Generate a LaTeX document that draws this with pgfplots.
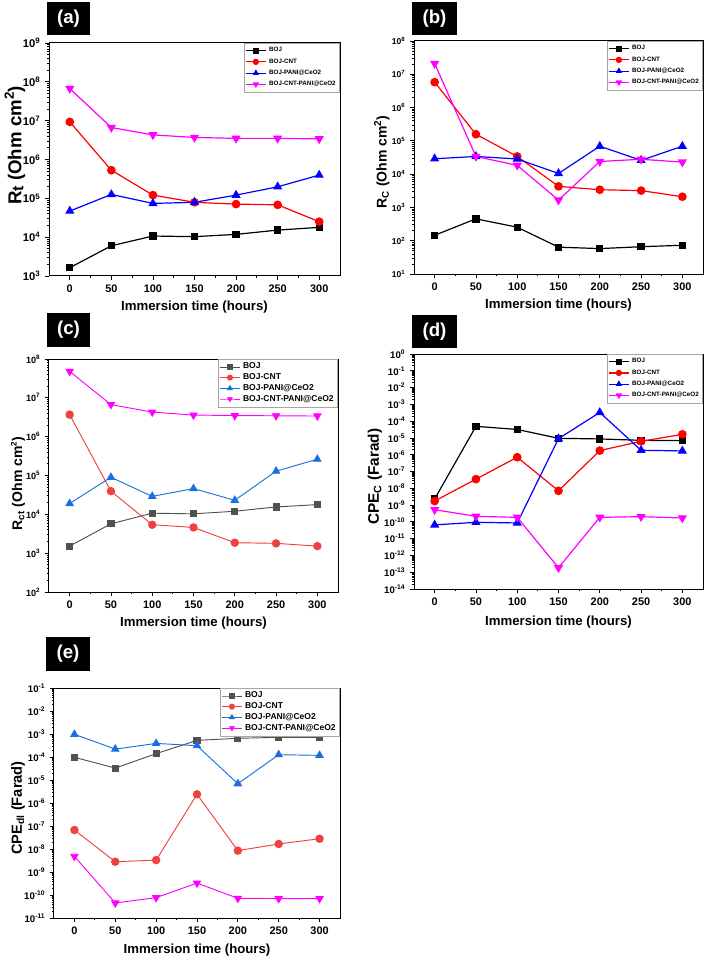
\documentclass[border=0pt]{standalone}
\usepackage{fontspec}
\setmainfont{Liberation Sans}
\usepackage{pgfplots}
\pgfplotsset{compat=1.18}
\definecolor{oGray}{HTML}{515151}
\definecolor{oRed}{HTML}{F14040}
\definecolor{oBlue}{HTML}{1A6FDF}
\definecolor{oMag}{HTML}{FF00FF}
\definecolor{pRed}{HTML}{FF0000}
\definecolor{pBlue}{HTML}{0000FF}
\newcommand\sqr[1]{\raisebox{0.75ex}{\fontsize{#1}{#1}\selectfont 2}}
\pgfplotsset{
  panel/.style={
    scale only axis,
    xmin=-25, xmax=325,
    xtick={0,50,...,300},
    minor x tick num=1,
    tick align=outside,
    xtick pos=left, ytick pos=left,
    major tick length=3pt, minor tick length=1.6pt,
    every tick/.style={black, line width=0.6pt},
    axis line style={line width=0.75pt},
    /pgf/number format/assume math mode=true,
    xticklabel style={font=\fontsize{8.2}{9}\selectfont\bfseries},
    yticklabel={\pgfmathtruncatemacro\e{round(\tick/2.302585093)}10\textsuperscript{\e}},
    xlabel={Immersion time (hours)},
    xlabel style={font=\fontsize{9.9}{11}\selectfont\bfseries, anchor=center},
    legend cell align=left,
    legend image code/.code={\draw[mark repeat=2,mark phase=2,##1] plot coordinates {(0pt,0pt) (7.5pt,0pt) (15pt,0pt)};},
    legend image post style={mark size=1.9pt},
  },
  smallleg/.style={legend style={at={(1,1)}, anchor=north east, draw=gray!70, line width=0.4pt,
    font=\fontsize{4.7}{5.6}\selectfont\bfseries, inner xsep=1pt, inner ysep=1.2pt, row sep=-0.4pt}},
  bigleg/.style={legend style={at={(1,1)}, anchor=north east, draw=gray!70, line width=0.4pt,
    font=\fontsize{6.4}{7.4}\selectfont\bfseries, inner xsep=1pt, inner ysep=0.8pt, row sep=-2pt}},
  sA/.style={#1, line width=0.9pt, mark=square*, mark size=2.3pt},
  sB/.style={#1, line width=0.9pt, mark=*, mark size=2.8pt},
  sC/.style={#1, line width=0.9pt, mark=triangle*, mark size=3.1pt},
  sD/.style={#1, line width=0.9pt, mark=triangle*, mark size=3.1pt, mark options={rotate=180}},
}
\begin{document}
\begin{tikzpicture}
\useasboundingbox (0pt,0pt) rectangle (531.75pt,-719.25pt);
% panel labels
\tikzset{plab/.style={fill=black, text=white, inner sep=0pt, font=\fontsize{14}{16}\selectfont\bfseries}}
\node[plab, minimum width=32.25pt, minimum height=24.75pt] at (51.375pt,-13.875pt) {(a)};
\node[plab, minimum width=33.75pt, minimum height=24.75pt] at (325.875pt,-13.875pt) {(b)};
\node[plab, minimum width=32.25pt, minimum height=25.5pt] at (51.375pt,-247.5pt) {(c)};
\node[plab, minimum width=33.75pt, minimum height=24.75pt] at (325.875pt,-248.625pt) {(d)};
\node[plab, minimum width=33pt, minimum height=25.5pt] at (51pt,-490.5pt) {(e)};

% (a)
\begin{semilogyaxis}[panel, smallleg, at={(36.75pt,-207pt)}, anchor=south west,
  width=218.25pt, height=174.75pt, ymin=1e3, ymax=1e9, ytickten={3,...,9},
  yticklabel style={font=\fontsize{8.4}{9}\selectfont\bfseries},
  ylabel={R\raisebox{-0.2ex}{\fontsize{12}{13}\selectfont t} (Ohm cm\sqr{10})},
  ylabel style={font=\fontsize{14}{16}\selectfont\bfseries, anchor=center, at={(axis description cs:-0.117,0.56)}},
  xlabel style={at={(axis description cs:0.5,-0.133)}}]
\addplot[sA=black] coordinates {(0,1640) (50,6000) (100,10700) (150,10300) (200,11800) (250,15200) (300,17900)};
\addlegendentry{BOJ}
\addplot[sB=pRed] coordinates {(0,9.3e6) (50,5.3e5) (100,1.21e5) (150,7.9e4) (200,7.1e4) (250,6.8e4) (300,2.5e4)};
\addlegendentry{BOJ-CNT}
\addplot[sC=pBlue] coordinates {(0,4.7e4) (50,1.26e5) (100,7.4e4) (150,7.9e4) (200,1.21e5) (250,1.98e5) (300,3.97e5)};
\addlegendentry{BOJ-PANI@CeO2}
\addplot[sD=oMag] coordinates {(0,6.7e7) (50,6.65e6) (100,4.3e6) (150,3.7e6) (200,3.5e6) (250,3.5e6) (300,3.4e6)};
\addlegendentry{BOJ-CNT-PANI@CeO2}
\end{semilogyaxis}

% (b)
\begin{semilogyaxis}[panel, smallleg, at={(310.5pt,-205.5pt)}, anchor=south west,
  width=216.75pt, height=174.75pt, ymin=1e1, ymax=1e8, ytickten={1,...,8},
  yticklabel style={font=\fontsize{6.4}{7}\selectfont\bfseries},
  ylabel={R\textsubscript{C} (Ohm cm\sqr{7.5})},
  ylabel style={font=\fontsize{10.5}{12}\selectfont\bfseries, anchor=center, at={(axis description cs:-0.111,0.48)}},
  xlabel style={at={(axis description cs:0.5,-0.133)}}]
\addplot[sA=black] coordinates {(0,146) (50,454) (100,255) (150,64) (200,58) (250,66) (300,73)};
\addlegendentry{BOJ}
\addplot[sB=pRed] coordinates {(0,5.8e6) (50,1.58e5) (100,3.4e4) (150,4.3e3) (200,3.4e3) (250,3.2e3) (300,2.1e3)};
\addlegendentry{BOJ-CNT}
\addplot[sC=pBlue] coordinates {(0,2.9e4) (50,3.4e4) (100,2.85e4) (150,1.05e4) (200,6.9e4) (250,2.6e4) (300,6.9e4)};
\addlegendentry{BOJ-PANI@CeO2}
\addplot[sD=oMag] coordinates {(0,2.1e7) (50,3.4e4) (100,1.84e4) (150,1.66e3) (200,2.4e4) (250,2.8e4) (300,2.3e4)};
\addlegendentry{BOJ-CNT-PANI@CeO2}
\end{semilogyaxis}

% (c)
\begin{semilogyaxis}[panel, bigleg, at={(36.75pt,-444pt)}, anchor=south west,
  width=216.75pt, height=174.75pt, ymin=1e2, ymax=1e8, ytickten={2,...,8},
  yticklabel style={font=\fontsize{6.8}{7.5}\selectfont\bfseries},
  ylabel={R\textsubscript{ct} (Ohm cm\sqr{6})},
  ylabel style={font=\fontsize{10.5}{12}\selectfont\bfseries, anchor=center, at={(axis description cs:-0.107,0.464)}},
  xlabel style={at={(axis description cs:0.5,-0.133)}}]
\addplot[sA=oGray, line width=0.7pt] coordinates {(0,1520) (50,5700) (100,10700) (150,10300) (200,12000) (250,15500) (300,17800)};
\addlegendentry{BOJ}
\addplot[sB=oRed, line width=0.7pt] coordinates {(0,3.7e6) (50,3.95e4) (100,5.4e3) (150,4.6e3) (200,1.86e3) (250,1.79e3) (300,1.52e3)};
\addlegendentry{BOJ-CNT}
\addplot[sC=oBlue, line width=0.7pt] coordinates {(0,1.9e4) (50,9.0e4) (100,2.9e4) (150,4.6e4) (200,2.3e4) (250,1.29e5) (300,2.63e5)};
\addlegendentry{BOJ-PANI@CeO2}
\addplot[sD=oMag, line width=0.7pt] coordinates {(0,4.8e7) (50,6.7e6) (100,4.3e6) (150,3.6e6) (200,3.5e6) (250,3.45e6) (300,3.4e6)};
\addlegendentry{BOJ-CNT-PANI@CeO2}
\end{semilogyaxis}

% (d)
\begin{semilogyaxis}[panel, smallleg, at={(310.5pt,-441.75pt)}, anchor=south west,
  width=216.75pt, height=176.25pt, ymin=1e-14, ymax=1, ytickten={-14,...,0},
  yticklabel style={font=\fontsize{7.2}{8}\selectfont\bfseries},
  ylabel={CPE\textsubscript{C} (Farad)},
  ylabel style={font=\fontsize{11.5}{13}\selectfont\bfseries, anchor=center, at={(axis description cs:-0.135,0.477)}},
  xlabel style={at={(axis description cs:0.5,-0.14)}}]
\addplot[sA=black] coordinates {(0,2.3e-9) (50,4.9e-5) (100,3.2e-5) (150,9.5e-6) (200,8.7e-6) (250,7.2e-6) (300,6.9e-6)};
\addlegendentry{BOJ}
\addplot[sB=pRed] coordinates {(0,1.74e-9) (50,3.5e-8) (100,7.1e-7) (150,7.1e-9) (200,1.76e-6) (250,6.3e-6) (300,1.64e-5)};
\addlegendentry{BOJ-CNT}
\addplot[sC=pBlue] coordinates {(0,6.6e-11) (50,9.4e-11) (100,8.6e-11) (150,9.1e-6) (200,3.3e-4) (250,1.84e-6) (300,1.68e-6)};
\addlegendentry{BOJ-PANI@CeO2}
\addplot[sD=oMag] coordinates {(0,5.3e-10) (50,2.14e-10) (100,1.86e-10) (150,1.84e-13) (200,1.86e-10) (250,2.04e-10) (300,1.7e-10)};
\addlegendentry{BOJ-CNT-PANI@CeO2}
\end{semilogyaxis}

% (e)
\begin{semilogyaxis}[panel, bigleg, at={(40.5pt,-688.5pt)}, anchor=south west,
  width=214.5pt, height=172.5pt, ymin=1e-11, ymax=1e-1, ytickten={-11,...,-1},
  yticklabel style={font=\fontsize{7.2}{8}\selectfont\bfseries},
  ylabel={CPE\textsubscript{dl} (Farad)},
  ylabel style={font=\fontsize{11}{13}\selectfont\bfseries, anchor=center, at={(axis description cs:-0.126,0.478)}},
  xlabel style={at={(axis description cs:0.5,-0.139)}}]
\addplot[sA=oGray, line width=0.7pt] coordinates {(0,9.7e-5) (50,3.3e-5) (100,1.4e-4) (150,5.3e-4) (200,6.5e-4) (250,7.2e-4) (300,7.2e-4)};
\addlegendentry{BOJ}
\addplot[sB=oRed, line width=0.7pt] coordinates {(0,6.7e-8) (50,2.8e-9) (100,3.3e-9) (150,2.4e-6) (200,8.5e-9) (250,1.66e-8) (300,2.8e-8)};
\addlegendentry{BOJ-CNT}
\addplot[sC=oBlue, line width=0.7pt] coordinates {(0,9.7e-4) (50,2.2e-4) (100,3.9e-4) (150,3.1e-4) (200,6.9e-6) (250,1.26e-4) (300,1.18e-4)};
\addlegendentry{BOJ-PANI@CeO2}
\addplot[sD=oMag, line width=0.7pt] coordinates {(0,4.8e-9) (50,4.5e-11) (100,7.7e-11) (150,3.3e-10) (200,7.2e-11) (250,7.0e-11) (300,7.0e-11)};
\addlegendentry{BOJ-CNT-PANI@CeO2}
\end{semilogyaxis}
\end{tikzpicture}
\end{document}
